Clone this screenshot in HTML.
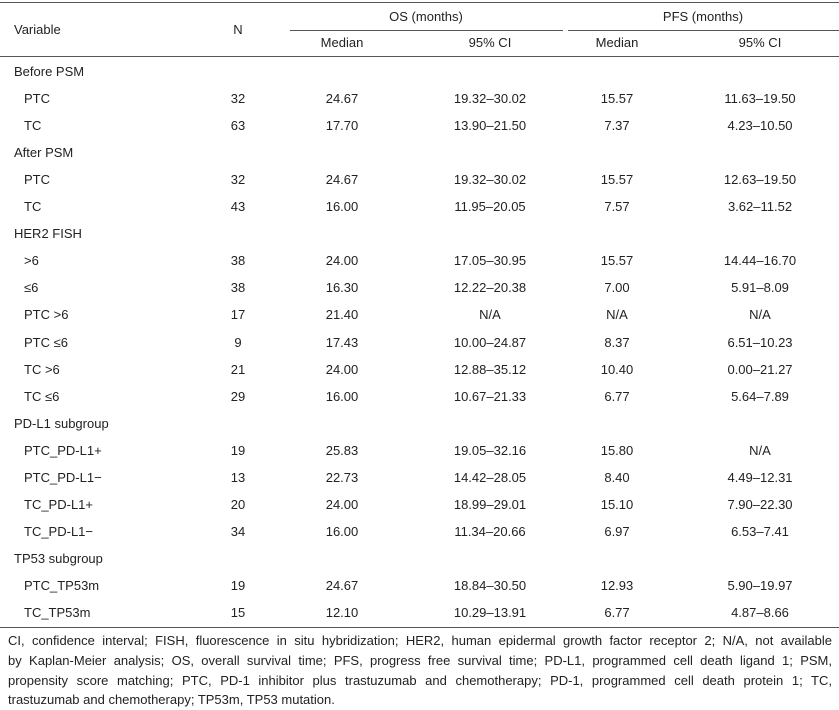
<!DOCTYPE html>
<html><head><meta charset="utf-8"><style>
body{margin:0;width:839px;height:702px;background:#fff;position:relative;font-family:"Liberation Sans",Arial,sans-serif;font-size:13px;color:#222;overflow:hidden}
.t{position:absolute;white-space:nowrap;line-height:16px;transform:translateY(-8px)}
.c{transform:translate(-50%,-8px)}
.l{position:absolute;height:0;border-top:1.3px solid #555}
.fn{position:absolute;left:8px;width:824px;top:631px;font-size:13px;line-height:19.8px;color:#222}
.fn div{text-align:justify;text-align-last:justify;height:19.8px}
.fn div.last{text-align-last:left}
</style></head><body>
<div class="l" style="left:0;width:839px;top:2px"></div>
<div class="l" style="left:290px;width:273px;top:30px"></div>
<div class="l" style="left:568px;width:271px;top:30px"></div>
<div class="l" style="left:0;width:839px;top:56px"></div>
<div class="l" style="left:0;width:839px;top:627px"></div>
<div class="t" style="left:14px;top:30px">Variable</div>
<div class="t c" style="left:238px;top:30px">N</div>
<div class="t c" style="left:426px;top:17px">OS (months)</div>
<div class="t c" style="left:703px;top:17px">PFS (months)</div>
<div class="t c" style="left:342px;top:43px">Median</div>
<div class="t c" style="left:490px;top:43px">95% CI</div>
<div class="t c" style="left:617px;top:43px">Median</div>
<div class="t c" style="left:760px;top:43px">95% CI</div>
<div id="rows"></div>
<script>
var R=[["Before PSM"],["PTC","32","24.67","19.32–30.02","15.57","11.63–19.50"],["TC","63","17.70","13.90–21.50","7.37","4.23–10.50"],
["After PSM"],["PTC","32","24.67","19.32–30.02","15.57","12.63–19.50"],["TC","43","16.00","11.95–20.05","7.57","3.62–11.52"],
["HER2 FISH"],[">6","38","24.00","17.05–30.95","15.57","14.44–16.70"],["≤6","38","16.30","12.22–20.38","7.00","5.91–8.09"],
["PTC >6","17","21.40","N/A","N/A","N/A"],["PTC ≤6","9","17.43","10.00–24.87","8.37","6.51–10.23"],["TC >6","21","24.00","12.88–35.12","10.40","0.00–21.27"],
["TC ≤6","29","16.00","10.67–21.33","6.77","5.64–7.89"],["PD-L1 subgroup"],["PTC_PD-L1+","19","25.83","19.05–32.16","15.80","N/A"],
["PTC_PD-L1−","13","22.73","14.42–28.05","8.40","4.49–12.31"],["TC_PD-L1+","20","24.00","18.99–29.01","15.10","7.90–22.30"],
["TC_PD-L1−","34","16.00","11.34–20.66","6.97","6.53–7.41"],["TP53 subgroup"],["PTC_TP53m","19","24.67","18.84–30.50","12.93","5.90–19.97"],
["TC_TP53m","15","12.10","10.29–13.91","6.77","4.87–8.66"]];
var X=[238,342,490,617,760],h="";
R.forEach(function(r,i){var y=72+i*27.05;
h+='<div class="t" style="left:'+(r.length>1?24:14)+'px;top:'+y+'px">'+r[0].replace('>','&gt;')+'</div>';
for(var j=1;j<r.length;j++)h+='<div class="t c" style="left:'+X[j-1]+'px;top:'+y+'px">'+r[j]+'</div>';});
document.getElementById('rows').innerHTML=h;
</script>
<div class="fn">
<div>CI, confidence interval; FISH, fluorescence in situ hybridization; HER2, human epidermal growth factor receptor 2; N/A, not available</div>
<div>by Kaplan-Meier analysis; OS, overall survival time; PFS, progress free survival time; PD-L1, programmed cell death ligand 1; PSM,</div>
<div>propensity score matching; PTC, PD-1 inhibitor plus trastuzumab and chemotherapy; PD-1, programmed cell death protein 1; TC,</div>
<div class="last">trastuzumab and chemotherapy; TP53m, TP53 mutation.</div>
</div>
</body></html>
